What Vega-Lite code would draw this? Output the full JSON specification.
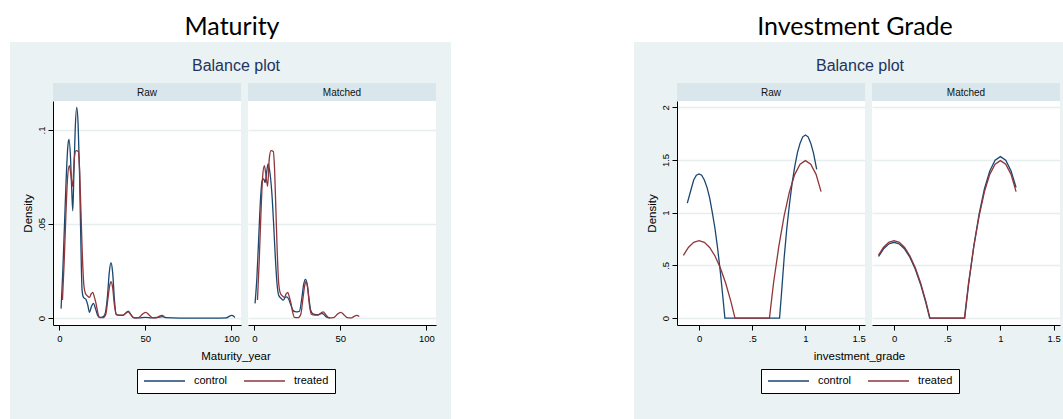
{
  "$schema": "https://vega.github.io/schema/vega-lite/v6.json",
  "background": "#EAF2F3",
  "padding": 0,
  "datasets": {
    "matRawC": [
      {"x":1.0,"density":0.005},{"x":2.0,"density":0.025},{"x":3.0,"density":0.05},{"x":4.0,"density":0.075},{"x":5.0,"density":0.092},{"x":5.6,"density":0.095},{"x":6.5,"density":0.085},{"x":7.2,"density":0.068},{"x":7.8,"density":0.057},{"x":8.4,"density":0.075},{"x":9.2,"density":0.1},{"x":10.1,"density":0.112},{"x":10.9,"density":0.103},{"x":11.7,"density":0.078},{"x":12.4,"density":0.045},{"x":13.2,"density":0.015},{"x":14.0,"density":0.011},{"x":15.5,"density":0.0098},{"x":16.5,"density":0.007},{"x":17.5,"density":0.003},{"x":18.6,"density":0.006},{"x":19.8,"density":0.0078},{"x":21.0,"density":0.005},{"x":22.2,"density":0.0015},{"x":23.5,"density":0.0003},{"x":25.0,"density":0.0005},{"x":26.5,"density":0.002},{"x":28.0,"density":0.012},{"x":29.0,"density":0.024},{"x":30.0,"density":0.0294},{"x":31.0,"density":0.024},{"x":32.0,"density":0.01},{"x":33.0,"density":0.0018},{"x":35.0,"density":0.0014},{"x":37.0,"density":0.0014},{"x":38.5,"density":0.0025},{"x":40.0,"density":0.0037},{"x":41.5,"density":0.002},{"x":43.0,"density":0.0002},{"x":46.0,"density":0.0001},{"x":50.0,"density":0.0004},{"x":54.0,"density":0.0001},{"x":57.0,"density":0.0003},{"x":60.0,"density":0.0008},{"x":62.0,"density":0.0002},{"x":70.0,"density":0},{"x":80.0,"density":0},{"x":90.0,"density":0},{"x":97.0,"density":0.0001},{"x":98.5,"density":0.0008},{"x":100.2,"density":0.0014},{"x":101.5,"density":0.0008},{"x":102.0,"density":0.0003}
    ],
    "matT": [
      {"x":1.8,"density":0.0096},{"x":2.8,"density":0.03},{"x":3.8,"density":0.055},{"x":4.8,"density":0.075},{"x":5.8,"density":0.081},{"x":6.6,"density":0.077},{"x":7.7,"density":0.07},{"x":8.7,"density":0.085},{"x":9.7,"density":0.089},{"x":11.0,"density":0.0885},{"x":11.8,"density":0.078},{"x":12.5,"density":0.058},{"x":13.3,"density":0.035},{"x":14.2,"density":0.018},{"x":15.2,"density":0.013},{"x":16.3,"density":0.0118},{"x":17.5,"density":0.011},{"x":18.5,"density":0.0128},{"x":19.4,"density":0.0137},{"x":20.4,"density":0.011},{"x":21.3,"density":0.0078},{"x":22.3,"density":0.003},{"x":23.3,"density":0.0003},{"x":25.5,"density":0.0002},{"x":27.0,"density":0.002},{"x":28.2,"density":0.01},{"x":29.2,"density":0.017},{"x":30.0,"density":0.0193},{"x":31.0,"density":0.016},{"x":32.0,"density":0.007},{"x":33.2,"density":0.002},{"x":35.0,"density":0.0015},{"x":37.0,"density":0.0015},{"x":38.7,"density":0.0027},{"x":40.0,"density":0.0033},{"x":41.5,"density":0.0018},{"x":43.5,"density":0.0001},{"x":46.0,"density":0.0002},{"x":48.5,"density":0.0022},{"x":50.3,"density":0.003},{"x":52.0,"density":0.0018},{"x":54.0,"density":0.0002},{"x":56.5,"density":0.0001},{"x":58.0,"density":0.0009},{"x":59.5,"density":0.0014},{"x":61.0,"density":0.0008}
    ],
    "matMatC": [
      {"x":0.4,"density":0.0078},{"x":1.5,"density":0.022},{"x":2.5,"density":0.042},{"x":3.5,"density":0.062},{"x":4.5,"density":0.073},{"x":5.4,"density":0.074},{"x":6.3,"density":0.072},{"x":7.2,"density":0.078},{"x":8.0,"density":0.082},{"x":9.1,"density":0.077},{"x":10.2,"density":0.066},{"x":11.2,"density":0.05},{"x":12.2,"density":0.032},{"x":13.2,"density":0.018},{"x":14.2,"density":0.012},{"x":15.5,"density":0.0105},{"x":16.8,"density":0.0095},{"x":18.0,"density":0.011},{"x":18.8,"density":0.0113},{"x":20.0,"density":0.01},{"x":21.2,"density":0.007},{"x":22.5,"density":0.004},{"x":23.7,"density":0.0034},{"x":25.0,"density":0.0033},{"x":26.2,"density":0.0036},{"x":27.5,"density":0.01},{"x":28.7,"density":0.018},{"x":29.7,"density":0.0206},{"x":30.7,"density":0.018},{"x":31.8,"density":0.01},{"x":32.8,"density":0.004},{"x":34.0,"density":0.0022},{"x":36.0,"density":0.0018},{"x":37.8,"density":0.002},{"x":39.2,"density":0.0025},{"x":40.5,"density":0.0018},{"x":42.0,"density":0.0005},{"x":44.0,"density":0.0001}
    ],
    "igRawC": [
      {"x":-0.11,"density":1.09},{"x":-0.075,"density":1.22},{"x":-0.05,"density":1.31},{"x":-0.025,"density":1.355},{"x":0,"density":1.368},{"x":0.025,"density":1.355},{"x":0.05,"density":1.31},{"x":0.075,"density":1.24},{"x":0.1,"density":1.14},{"x":0.125,"density":1.0},{"x":0.15,"density":0.85},{"x":0.175,"density":0.66},{"x":0.2,"density":0.44},{"x":0.225,"density":0.19},{"x":0.243,"density":0},{"x":0.5,"density":0},{"x":0.757,"density":0},{"x":0.775,"density":0.23},{"x":0.8,"density":0.57},{"x":0.825,"density":0.85},{"x":0.85,"density":1.08},{"x":0.875,"density":1.28},{"x":0.9,"density":1.44},{"x":0.925,"density":1.57},{"x":0.95,"density":1.66},{"x":0.975,"density":1.72},{"x":1.0,"density":1.738},{"x":1.025,"density":1.72},{"x":1.05,"density":1.66},{"x":1.075,"density":1.57},{"x":1.106,"density":1.41}
    ],
    "igT": [
      {"x":-0.147,"density":0.595},{"x":-0.1,"density":0.67},{"x":-0.05,"density":0.718},{"x":0,"density":0.734},{"x":0.05,"density":0.718},{"x":0.1,"density":0.67},{"x":0.15,"density":0.589},{"x":0.2,"density":0.477},{"x":0.25,"density":0.332},{"x":0.3,"density":0.156},{"x":0.338,"density":0},{"x":0.5,"density":0},{"x":0.662,"density":0},{"x":0.7,"density":0.33},{"x":0.75,"density":0.68},{"x":0.8,"density":0.97},{"x":0.85,"density":1.2},{"x":0.9,"density":1.364},{"x":0.95,"density":1.461},{"x":1.0,"density":1.494},{"x":1.05,"density":1.461},{"x":1.1,"density":1.364},{"x":1.147,"density":1.2}
    ],
    "igMatC": [
      {"x":-0.145,"density":0.584},{"x":-0.1,"density":0.655},{"x":-0.05,"density":0.703},{"x":0,"density":0.719},{"x":0.05,"density":0.703},{"x":0.1,"density":0.655},{"x":0.15,"density":0.575},{"x":0.2,"density":0.463},{"x":0.25,"density":0.319},{"x":0.3,"density":0.142},{"x":0.335,"density":0},{"x":0.5,"density":0},{"x":0.664,"density":0},{"x":0.7,"density":0.311},{"x":0.75,"density":0.684},{"x":0.8,"density":0.989},{"x":0.85,"density":1.227},{"x":0.9,"density":1.396},{"x":0.95,"density":1.498},{"x":1.0,"density":1.532},{"x":1.05,"density":1.498},{"x":1.1,"density":1.396},{"x":1.147,"density":1.239}
    ]
  },
  "vconcat": [
    {"hconcat": [
      {"width": 451, "height": 42, "view": {"fill": "white", "stroke": null}, "data": {"values": [{"t": "Maturity"}]},
       "mark": {"type": "text", "font": "Lato", "fontSize": 25, "color": "#000", "baseline": "alphabetic", "dx": 6.5, "dy": 14},
       "encoding": {"text": {"field": "t"}}},
      {"width": 183, "height": 42, "view": {"fill": "white", "stroke": null}, "data": {"values": [{}]}, "mark": {"type": "text", "text": " "}},
      {"width": 429, "height": 42, "view": {"fill": "white", "stroke": null}, "data": {"values": [{"t": "Investment Grade"}]},
       "mark": {"type": "text", "font": "Lato", "fontSize": 25, "color": "#000", "baseline": "alphabetic", "dx": 6.5, "dy": 14},
       "encoding": {"text": {"field": "t"}}}
    ], "spacing": 0, "bounds": "flush"},
    {"hconcat": [
      {"width": 10, "height": 41, "view": {"fill": "white", "stroke": null}, "data": {"values": [{}]}, "mark": {"type": "text", "text": " "}},
      {"width": 441, "height": 41, "data": {"values": [{"t": "Balance plot"}]},
       "mark": {"type": "text", "fontSize": 16, "color": "#22325E", "baseline": "middle", "dx": 5.5, "dy": 3.5},
       "encoding": {"text": {"field": "t"}}},
      {"width": 183, "height": 41, "view": {"fill": "white", "stroke": null}, "data": {"values": [{}]}, "mark": {"type": "text", "text": " "}},
      {"width": 429, "height": 41, "data": {"values": [{"t": "Balance plot"}]},
       "mark": {"type": "text", "fontSize": 16, "color": "#22325E", "baseline": "middle", "dx": 11.5, "dy": 3.5},
       "encoding": {"text": {"field": "t"}}}
    ], "spacing": 0, "bounds": "flush"},
    {"hconcat": [
      {"width": 10, "height": 18, "view": {"fill": "white", "stroke": null}, "data": {"values": [{}]}, "mark": {"type": "text", "text": " "}},
      {"width": 43, "height": 18, "data": {"values": [{}]}, "mark": {"type": "text", "text": " "}},
      {"width": 188, "height": 18, "view": {"fill": "#D9E6EB", "stroke": null}, "data": {"values": [{"t": "Raw"}]},
       "mark": {"type": "text", "fontSize": 10, "color": "#111", "baseline": "middle", "dy": 0.5}, "encoding": {"text": {"field": "t"}}},
      {"width": 7, "height": 18, "data": {"values": [{}]}, "mark": {"type": "text", "text": " "}},
      {"width": 188, "height": 18, "view": {"fill": "#D9E6EB", "stroke": null}, "data": {"values": [{"t": "Matched"}]},
       "mark": {"type": "text", "fontSize": 10, "color": "#111", "baseline": "middle", "dy": 0.5}, "encoding": {"text": {"field": "t"}}},
      {"width": 15, "height": 18, "data": {"values": [{}]}, "mark": {"type": "text", "text": " "}},
      {"width": 183, "height": 18, "view": {"fill": "white", "stroke": null}, "data": {"values": [{}]}, "mark": {"type": "text", "text": " "}},
      {"width": 43, "height": 18, "data": {"values": [{}]}, "mark": {"type": "text", "text": " "}},
      {"width": 188, "height": 18, "view": {"fill": "#D9E6EB", "stroke": null}, "data": {"values": [{"t": "Raw"}]},
       "mark": {"type": "text", "fontSize": 10, "color": "#111", "baseline": "middle", "dy": 0.5}, "encoding": {"text": {"field": "t"}}},
      {"width": 7, "height": 18, "data": {"values": [{}]}, "mark": {"type": "text", "text": " "}},
      {"width": 188, "height": 18, "view": {"fill": "#D9E6EB", "stroke": null}, "data": {"values": [{"t": "Matched"}]},
       "mark": {"type": "text", "fontSize": 10, "color": "#111", "baseline": "middle", "dy": 0.5}, "encoding": {"text": {"field": "t"}}},
      {"width": 3, "height": 18, "data": {"values": [{}]}, "mark": {"type": "text", "text": " "}}
    ], "spacing": 0, "bounds": "flush"},
    {"hconcat": [
      {"width": 10, "height": 248, "view": {"fill": "white", "stroke": null}, "data": {"values": [{}]}, "mark": {"type": "text", "text": " "}},
      {"width": 43, "height": 224, "data": {"values": [{}]}, "mark": {"type": "text", "text": " "}},
      {"width": 188, "height": 224, "view": {"fill": "white", "stroke": null},
       "encoding": {
         "x": {"field": "x", "type": "quantitative", "scale": {"domain": [-3.7, 105.6], "nice": false, "zero": false}, "axis": {"values": [0, 50, 100], "title": null}},
         "y": {"field": "density", "type": "quantitative", "scale": {"domain": [-0.0037, 0.1154], "nice": false, "zero": false},
               "axis": {"values": [0, 0.05, 0.1], "format": "~g", "labelExpr": "datum.value > 0 && datum.value < 1 ? slice(datum.label, 1) : datum.label", "title": "Density"}}
       },
       "layer": [
         {"data": {"name": "matRawC"}, "mark": {"type": "line", "color": "#1A476F", "strokeWidth": 1.3, "interpolate": "monotone"}},
         {"data": {"name": "matT"}, "mark": {"type": "line", "color": "#90353B", "strokeWidth": 1.3, "interpolate": "monotone"}}
       ]},
      {"width": 7, "height": 224, "data": {"values": [{}]}, "mark": {"type": "text", "text": " "}},
      {"width": 188, "height": 224, "view": {"fill": "white", "stroke": null},
       "encoding": {
         "x": {"field": "x", "type": "quantitative", "scale": {"domain": [-3.7, 105.6], "nice": false, "zero": false}, "axis": {"values": [0, 50, 100], "title": null}},
         "y": {"field": "density", "type": "quantitative", "scale": {"domain": [-0.0037, 0.1154], "nice": false, "zero": false},
               "axis": {"values": [0, 0.05, 0.1], "labels": false, "ticks": false, "domain": false, "title": null}}
       },
       "layer": [
         {"data": {"name": "matMatC"}, "mark": {"type": "line", "color": "#1A476F", "strokeWidth": 1.3, "interpolate": "monotone"}},
         {"data": {"name": "matT"}, "mark": {"type": "line", "color": "#90353B", "strokeWidth": 1.3, "interpolate": "monotone"}}
       ]},
      {"width": 15, "height": 224, "data": {"values": [{}]}, "mark": {"type": "text", "text": " "}},
      {"width": 183, "height": 248, "view": {"fill": "white", "stroke": null}, "data": {"values": [{}]}, "mark": {"type": "text", "text": " "}},
      {"width": 43, "height": 224, "data": {"values": [{}]}, "mark": {"type": "text", "text": " "}},
      {"width": 188, "height": 224, "view": {"fill": "white", "stroke": null},
       "encoding": {
         "x": {"field": "x", "type": "quantitative", "scale": {"domain": [-0.207, 1.56], "nice": false, "zero": false},
               "axis": {"values": [0, 0.5, 1, 1.5], "format": "~g", "labelExpr": "datum.value > 0 && datum.value < 1 ? slice(datum.label, 1) : datum.label", "title": null}},
         "y": {"field": "density", "type": "quantitative", "scale": {"domain": [-0.066, 2.06], "nice": false, "zero": false},
               "axis": {"values": [0, 0.5, 1, 1.5, 2], "format": "~g", "labelExpr": "datum.value > 0 && datum.value < 1 ? slice(datum.label, 1) : datum.label", "title": "Density"}}
       },
       "layer": [
         {"data": {"name": "igRawC"}, "mark": {"type": "line", "color": "#1A476F", "strokeWidth": 1.3}},
         {"data": {"name": "igT"}, "mark": {"type": "line", "color": "#90353B", "strokeWidth": 1.3}}
       ]},
      {"width": 7, "height": 224, "data": {"values": [{}]}, "mark": {"type": "text", "text": " "}},
      {"width": 188, "height": 224, "view": {"fill": "white", "stroke": null},
       "encoding": {
         "x": {"field": "x", "type": "quantitative", "scale": {"domain": [-0.207, 1.56], "nice": false, "zero": false},
               "axis": {"values": [0, 0.5, 1, 1.5], "format": "~g", "labelExpr": "datum.value > 0 && datum.value < 1 ? slice(datum.label, 1) : datum.label", "title": null}},
         "y": {"field": "density", "type": "quantitative", "scale": {"domain": [-0.066, 2.06], "nice": false, "zero": false},
               "axis": {"values": [0, 0.5, 1, 1.5, 2], "labels": false, "ticks": false, "domain": false, "title": null}}
       },
       "layer": [
         {"data": {"name": "igMatC"}, "mark": {"type": "line", "color": "#1A476F", "strokeWidth": 1.3}},
         {"data": {"name": "igT"}, "mark": {"type": "line", "color": "#90353B", "strokeWidth": 1.3}}
       ]},
      {"width": 3, "height": 224, "data": {"values": [{}]}, "mark": {"type": "text", "text": " "}}
    ], "spacing": 0, "bounds": "flush"},
    {"hconcat": [
      {"width": 10, "height": 70, "view": {"fill": "white", "stroke": null}, "data": {"values": [{}]}, "mark": {"type": "text", "text": " "}},
      {"width": 441, "height": 70,
       "layer": [
         {"data": {"values": [{"g": "control"}, {"g": "treated"}]}, "mark": {"type": "line"},
          "encoding": {"color": {"field": "g", "type": "nominal", "scale": {"domain": ["control", "treated"], "range": ["#1A476F", "#90353B"]},
            "legend": {"orient": "none", "legendX": 127, "legendY": 20, "direction": "horizontal", "title": null, "fillColor": "white", "strokeColor": "#000",
                       "padding": 6, "symbolType": "stroke", "symbolSize": 1681, "symbolStrokeWidth": 1.5, "clipHeight": 12, "labelFontSize": 11,
                       "labelFont": "Liberation Sans", "labelColor": "#000", "labelOffset": 8, "columnPadding": 15}}}},
         {"data": {"values": [{"t": "Maturity_year"}]}, "mark": {"type": "text", "fontSize": 11.5, "color": "#000", "baseline": "middle", "dx": 5.5, "dy": -27},
          "encoding": {"text": {"field": "t"}}}
       ]},
      {"width": 183, "height": 70, "view": {"fill": "white", "stroke": null}, "data": {"values": [{}]}, "mark": {"type": "text", "text": " "}},
      {"width": 429, "height": 70,
       "layer": [
         {"data": {"values": [{"g": "control"}, {"g": "treated"}]}, "mark": {"type": "line"},
          "encoding": {"color": {"field": "g", "type": "nominal", "scale": {"domain": ["control", "treated"], "range": ["#1A476F", "#90353B"]},
            "legend": {"orient": "none", "legendX": 127, "legendY": 20, "direction": "horizontal", "title": null, "fillColor": "white", "strokeColor": "#000",
                       "padding": 6, "symbolType": "stroke", "symbolSize": 1681, "symbolStrokeWidth": 1.5, "clipHeight": 12, "labelFontSize": 11,
                       "labelFont": "Liberation Sans", "labelColor": "#000", "labelOffset": 8, "columnPadding": 15}}}},
         {"data": {"values": [{"t": "investment_grade"}]}, "mark": {"type": "text", "fontSize": 11.5, "color": "#000", "baseline": "middle", "dx": 11, "dy": -27},
          "encoding": {"text": {"field": "t"}}}
       ]}
    ], "spacing": 0, "bounds": "flush",
    "resolve": {"scale": {"color": "independent"}, "legend": {"color": "independent"}}}
  ],
  "spacing": 0,
  "resolve": {"scale": {"color": "independent"}, "legend": {"color": "independent"}},
  "config": {
    "font": "Liberation Sans",
    "view": {"stroke": null},
    "text": {"font": "Liberation Sans"},
    "axis": {"labelFont": "Liberation Sans", "labelFontSize": 9.5, "labelColor": "#000", "domainColor": "#000", "domainWidth": 1, "tickColor": "#000", "tickSize": 5, "tickWidth": 1,
             "gridColor": "#E6EEF0", "gridWidth": 1.4, "titleFont": "Liberation Sans", "titleFontSize": 11.5, "titleFontWeight": "normal", "titleColor": "#000",
             "labelFlush": false, "labelOverlap": false},
    "axisX": {"grid": false, "labelPadding": 3},
    "axisY": {"grid": true, "labelAngle": 270, "labelAlign": "center", "labelBaseline": "bottom", "labelPadding": 2, "titlePadding": 3}
  }
}
